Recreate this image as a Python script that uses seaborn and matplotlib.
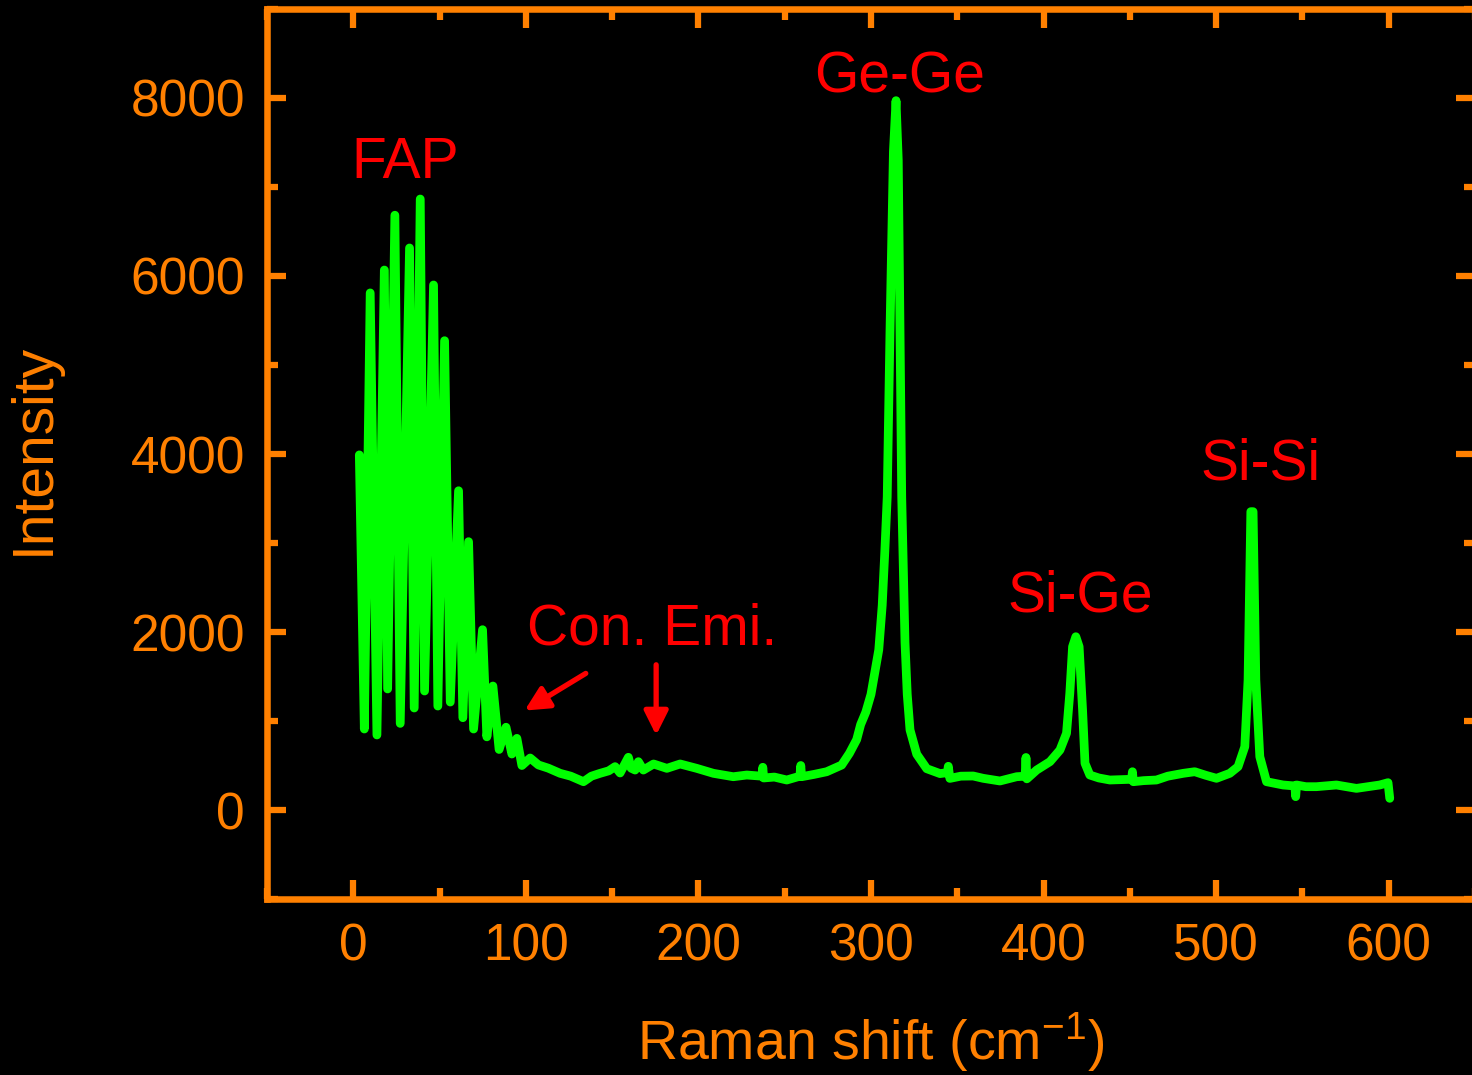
import matplotlib
matplotlib.use("Agg")
import matplotlib.pyplot as plt
import seaborn as sns
import pandas as pd
from matplotlib.ticker import MultipleLocator

# Raman spectrum (x in cm^-1, intensity)
shift = [3.5, 6.4, 9.8, 13.7, 18.0, 19.9, 24.1, 27.2, 32.6, 35.3, 38.8, 41.3,
         46.5, 49.0, 52.9, 56.2, 61.0, 63.5, 66.8, 69.7, 74.9, 77.4, 80.9, 84.5,
         88.5, 91.9, 94.8, 97.7, 102.5, 107.3, 113.0, 119.9, 126.0, 133.4, 138.0,
         143.0, 148.0, 151.7, 154.6, 159.4, 161.0, 163.3, 165.2, 168.1, 174.0,
         181.7, 189.4, 199.0, 208.7, 220.2, 228.0, 236.8, 237.3, 237.8, 244.0,
         251.2, 258.8, 259.3, 259.8, 267.0, 274.3, 283.0, 287.5, 291.7, 294.0,
         297.0, 300.0, 302.3, 304.5, 306.5, 308.0, 309.4, 311.0, 313.0, 314.5,
         315.8, 316.8, 317.8, 319.7, 321.0, 322.6, 326.5, 332.3, 340.0, 344.3,
         344.8, 345.7, 352.0, 359.2, 365.0, 374.7, 384.4, 389.3, 389.8, 390.3,
         396.0, 403.7, 409.5, 413.3, 415.2, 416.8, 418.7, 420.6, 422.6, 424.0,
         426.8, 432.0, 438.4, 451.0, 451.5, 452.0, 458.0, 465.4, 472.0, 480.9,
         487.6, 494.0, 500.2, 507.9, 512.7, 516.6, 518.5, 520.1, 521.4, 523.0,
         525.3, 529.2, 538.8, 545.6, 546.1, 546.6, 552.0, 558.1, 569.7, 581.3,
         594.8, 599.6, 600.6]
intensity = [3990, 910, 5810, 843, 6067, 1360, 6683, 973, 6315, 1146, 6865, 1337,
             5899, 1168, 5273, 1213, 3587, 1037, 3015, 910, 2026, 822, 1393, 680,
             930, 629, 805, 500, 584, 506, 470, 412, 380, 318, 380,
             412, 440, 487, 416, 592, 470, 449, 543, 449, 517,
             468, 517, 468, 412, 374, 393, 380, 480, 360, 370,
             337, 380, 500, 374, 400, 430, 505, 637, 791, 960,
             1100, 1300, 1554, 1800, 2300, 2900, 3518, 5373, 7400, 7970,
             7300, 5373, 3518, 1882, 1300, 900, 627, 464, 409, 420,
             491, 355, 380, 382, 356, 326, 374, 380, 590, 350,
             449, 543, 674, 862, 1311, 1835, 1947, 1835, 1124, 525,
             393, 360, 337, 345, 430, 318, 330, 337, 380, 412,
             430, 390, 356, 412, 487, 711, 1461, 3352, 3352, 1461,
             599, 318, 281, 270, 150, 281, 262, 262, 281, 243,
             281, 307, 131]

labels = ["FAP", "Ge-Ge", "Si-Ge", "Si-Si", "Con. Emi."]
label_x = [30.1, 316.8, 421.0, 525.8, 173.2]
label_y = [7101, 8067, 2225, 3719, 1854]

df = pd.DataFrame({"shift": shift, "intensity": intensity})

orange = "#FF8000"
sns.set_theme(style="ticks", rc={"axes.facecolor": "black", "figure.facecolor": "black"})
plt.rcParams["font.family"] = ["Liberation Sans", "DejaVu Sans"]
plt.rcParams["mathtext.fontset"] = "custom"
plt.rcParams["mathtext.rm"] = "Liberation Sans"
plt.rcParams["mathtext.it"] = "Liberation Sans"

fig = plt.figure(figsize=(14.72, 10.75), dpi=100)
ax = fig.add_axes([267 / 1472, 176 / 1075, 1208 / 1472, 890 / 1075])
ax.set_facecolor("black")

sns.lineplot(data=df, x="shift", y="intensity", ax=ax, color="#00FF00",
             linewidth=6.3, sort=False, estimator=None,
             solid_capstyle="round", solid_joinstyle="round")

ax.set_xlim(-50, 650)
ax.set_ylim(-1000, 9000)
ax.xaxis.set_major_locator(MultipleLocator(100))
ax.xaxis.set_minor_locator(MultipleLocator(50))
ax.yaxis.set_major_locator(MultipleLocator(2000))
ax.yaxis.set_minor_locator(MultipleLocator(1000))

for s in ax.spines.values():
    s.set_color(orange)
    s.set_linewidth(4.7)
ax.tick_params(which="both", direction="in", top=True, right=True,
               color=orange, labelcolor=orange, width=4.5)
ax.tick_params(which="major", length=14, labelsize=37)
ax.tick_params(axis="x", which="major", pad=17)
ax.tick_params(axis="y", which="major", pad=16)
ax.tick_params(which="minor", length=8)

ax.set_xlabel(r"Raman shift (cm$^{\mathregular{-1}}$)", fontsize=40, color=orange, labelpad=28)
ax.set_ylabel("Intensity", fontsize=41, color=orange)
ax.yaxis.set_label_coords(-0.171, 0.506)

for t, tx, ty in zip(labels, label_x, label_y):
    ax.text(tx, ty, t, color="red", fontsize=41, ha="center", va="baseline")

arrow = dict(arrowstyle="-|>", color="red", lw=3.8, mutation_scale=36)
ax.annotate("", xy=(97.9, 1101), xytext=(136.1, 1551), arrowprops=arrow)
ax.annotate("", xy=(175.5, 809), xytext=(175.5, 1663), arrowprops=arrow)

fig.savefig("out.png", dpi=100, facecolor="black")
